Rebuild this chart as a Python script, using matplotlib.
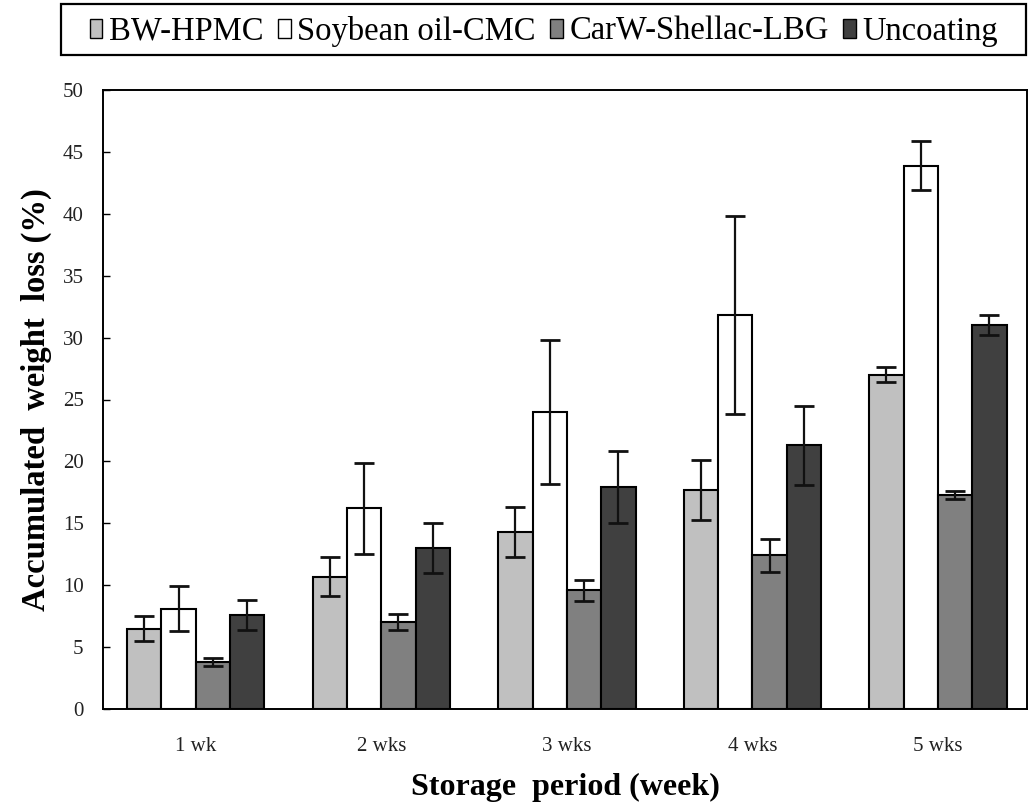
import numpy as np
import matplotlib
matplotlib.use("Agg")
import matplotlib.pyplot as plt
from matplotlib.patches import Rectangle

plt.rcParams['font.family'] = ['Liberation Serif', 'DejaVu Serif']

weeks = ["1 wk", "2 wks", "3 wks", "4 wks", "5 wks"]
coatings = ["BW-HPMC", "Soybean oil-CMC", "CarW-Shellac-LBG", "Uncoating"]

bw_hpmc = [6.5, 10.7, 14.3, 17.7, 27.0]
bw_hpmc_err = [1.0, 1.6, 2.0, 2.4, 0.6]
soybean_cmc = [8.1, 16.2, 24.0, 31.8, 43.9]
soybean_cmc_err = [1.8, 3.7, 5.8, 8.0, 2.0]
carw_lbg = [3.8, 7.0, 9.6, 12.4, 17.3]
carw_lbg_err = [0.3, 0.65, 0.85, 1.3, 0.3]
uncoating = [7.6, 13.0, 17.9, 21.3, 31.0]
uncoating_err = [1.2, 2.0, 2.9, 3.2, 0.8]

series = [bw_hpmc, soybean_cmc, carw_lbg, uncoating]
errors = [bw_hpmc_err, soybean_cmc_err, carw_lbg_err, uncoating_err]
colors = ["#c0c0c0", "#ffffff", "#808080", "#404040"]

W, H = 1029, 811
fig = plt.figure(figsize=(W / 100, H / 100), dpi=100)
ax = fig.add_axes([103 / W, 1 - 709 / H, 924 / W, 619 / H])

x = np.arange(len(weeks))
w = 0.185
for i, (vals, errs, c, name) in enumerate(zip(series, errors, colors, coatings)):
    pos = x + (i - 1.5) * w
    ax.bar(pos, vals, width=w, color=c, edgecolor="black", linewidth=1.5,
           label=name, zorder=2)
    ax.errorbar(pos, vals, yerr=errs, fmt="none", ecolor="#111111",
                elinewidth=1.6, capsize=7, capthick=2, zorder=3)

ax.set_xlim(-0.5, 4.48)
ax.set_ylim(0, 50)
ax.set_yticks(np.arange(0, 51, 5))
ax.set_xticks(x)
ax.set_xticklabels(weeks)

ax.tick_params(axis="y", direction="in", length=5, width=1, pad=14,
               labelsize=15, labelcolor="#222222")
ax.tick_params(axis="x", length=0, pad=20, labelsize=15, labelcolor="#222222")
for s in ax.spines.values():
    s.set_linewidth(1.4)
    s.set_color("black")

ax.set_xlabel("Storage  period (week)", fontsize=23, fontweight="bold")
ax.xaxis.set_label_coords(0.5, -0.103)
ax.set_ylabel("Accumulated  weight  loss (%)", fontsize=23.5, fontweight="bold")
ax.yaxis.set_label_coords(-0.055, 0.5)

# legend entries without frame, box drawn separately
leg = fig.legend(loc="upper left", bbox_to_anchor=(90 / W, 1 - 16 / H),
                 ncol=4, fontsize=23.5, frameon=False,
                 handlelength=0.38, handleheight=0.5, handletextpad=0.2,
                 columnspacing=0.45, borderpad=0, borderaxespad=0)
for h in leg.legend_handles:
    h.set_linewidth(1.0)
fig.patches.append(Rectangle((61 / W, 1 - 55 / H), (1026 - 61) / W, 51 / H,
                             transform=fig.transFigure, fill=False,
                             edgecolor="black", linewidth=1.6))

fig.savefig("out.png", dpi=100, facecolor="white")
